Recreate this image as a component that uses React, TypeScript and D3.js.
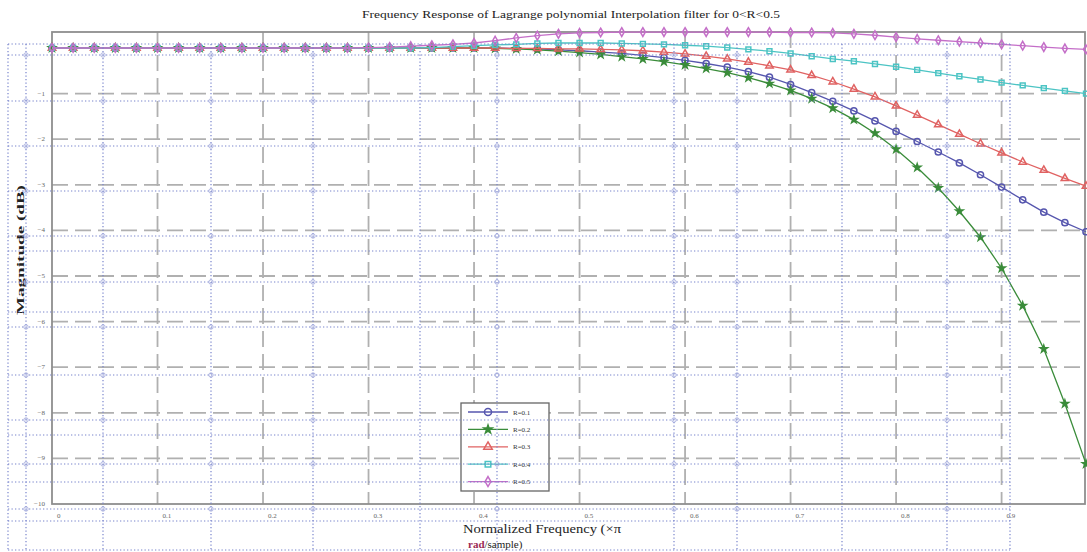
import React, { useEffect, useRef } from "react";
import * as d3 from "d3";

// normalized frequency (x pi rad/sample) of each plotted sample
const freqs = [
  0, 0.02, 0.04, 0.06, 0.08, 0.1, 0.12, 0.14, 0.16, 0.18,
  0.2, 0.22, 0.24, 0.26, 0.28, 0.3, 0.32, 0.34, 0.36, 0.38,
  0.4, 0.42, 0.44, 0.46, 0.48, 0.5, 0.52, 0.54, 0.56, 0.58,
  0.6, 0.62, 0.64, 0.66, 0.68, 0.7, 0.72, 0.74, 0.76, 0.78,
  0.8, 0.82, 0.84, 0.86, 0.88, 0.9, 0.92, 0.94, 0.96, 0.98,
];

// magnitude in dB
const magR01 = [
  0, 0, 0, 0, 0, 0, 0, 0, 0, 0,
  0, 0, 0, 0, 0, 0, 0, 0, 0, 0,
  0, 0, -0.01, -0.02, -0.04, -0.06, -0.09, -0.12, -0.16, -0.21,
  -0.27, -0.34, -0.42, -0.52, -0.64, -0.8, -0.98, -1.17, -1.38, -1.6,
  -1.83, -2.05, -2.28, -2.52, -2.78, -3.05, -3.33, -3.6, -3.83, -4.03,
];
const magR02 = [
  0, 0, 0, 0, 0, 0, 0, 0, 0, 0,
  0, 0, 0, 0, 0, 0, 0, 0, 0, 0,
  0, -0.01, -0.02, -0.04, -0.07, -0.1, -0.14, -0.19, -0.24, -0.3,
  -0.37, -0.45, -0.54, -0.65, -0.78, -0.93, -1.11, -1.32, -1.57, -1.87,
  -2.22, -2.62, -3.07, -3.58, -4.15, -4.83, -5.65, -6.6, -7.8, -9.12,
];
const magR03 = [
  0, 0, 0, 0, 0, 0, 0, 0, 0, 0,
  0, 0, 0, 0, 0, 0, 0, 0, 0, 0,
  0, 0, -0.01, -0.01, -0.02, -0.02, -0.03, -0.04, -0.06, -0.09,
  -0.13, -0.18, -0.24, -0.31, -0.39, -0.48, -0.6, -0.74, -0.9, -1.07,
  -1.27, -1.47, -1.68, -1.89, -2.1, -2.3, -2.5, -2.68, -2.86, -3.03,
];
const magR04 = [
  0, 0, 0, 0, 0, 0, 0, 0, 0, 0,
  0, 0, 0, 0, 0, 0, 0, 0, 0.01, 0.03,
  0.05, 0.07, 0.08, 0.1, 0.11, 0.11, 0.11, 0.1, 0.09, 0.08,
  0.06, 0.04, 0.01, -0.03, -0.07, -0.12, -0.18, -0.24, -0.29, -0.35,
  -0.41, -0.48, -0.55, -0.62, -0.69, -0.76, -0.82, -0.88, -0.94, -1.0,
];
const magR05 = [
  0, 0, 0, 0, 0, 0, 0, 0, 0, 0,
  0, 0, 0, 0, 0, 0.01, 0.02, 0.04, 0.06, 0.08,
  0.11, 0.16, 0.22, 0.27, 0.31, 0.33, 0.34, 0.35, 0.35, 0.35,
  0.35, 0.35, 0.35, 0.35, 0.35, 0.34, 0.34, 0.33, 0.31, 0.28,
  0.24, 0.2, 0.17, 0.14, 0.11, 0.08, 0.05, 0.02, -0.01, -0.03,
];

const seriesNames = ["R=0.1", "R=0.2", "R=0.3", "R=0.4", "R=0.5"];
const seriesValues = [magR01, magR02, magR03, magR04, magR05];

const xTicks = [0, 0.1, 0.2, 0.3, 0.4, 0.5, 0.6, 0.7, 0.8, 0.9];
const yTicks = [-1, -2, -3, -4, -5, -6, -7, -8, -9, -10];

const titleText = "Frequency Response of Lagrange polynomial Interpolation filter for 0<R<0.5";

// look of each series: colour and marker
const seriesStyle = [
  { color: "#5656ae", symbol: d3.symbolCircle, size: 30, fill: "none" },
  { color: "#3a8c3a", symbol: d3.symbolStar, size: 16, fill: "#3a8c3a" },
  { color: "#e06262", symbol: d3.symbolTriangle, size: 24, fill: "none" },
  { color: "#4cc4c4", symbol: d3.symbolSquare, size: 24, fill: "none" },
  { color: "#c46ec8", symbol: d3.symbolDiamond, size: 22, fill: "none" },
];

// dotted page grid lying over the figure (pixels)
const pageCols = [8, 26, 103, 211, 313, 420, 497, 674, 737, 842, 947, 1010];
const pageRows = [44, 55, 101, 146, 191, 236, 251, 282, 312, 327, 375, 420, 435, 464, 482, 509, 521, 550];
const ringCols = [26, 103, 211, 313, 497, 674, 737, 947];
const ringRows = [55, 101, 146, 191, 236, 282, 327, 375, 420, 464, 509];

const W = 1087;
const H = 552;
const serif = "'Liberation Serif', 'Times New Roman', serif";

function drawChart(el: SVGSVGElement) {
  const svg = d3.select(el);
  svg.selectAll("*").remove();

  const left = 52, right = 1085, top = 32, bottom = 504;
  const x = d3.scaleLinear().domain([0, 0.98]).range([52, 1086]);
  const y = d3.scaleLinear().domain([-10, 0]).range([504, 48]);

  svg.append("rect").attr("width", W).attr("height", H).attr("fill", "#fff");

  // grey dashed grid
  const grid = svg.append("g").attr("stroke", "#b0b0b0").attr("stroke-width", 1.8).attr("stroke-dasharray", "16,7");
  grid
    .selectAll(".hg")
    .data(yTicks.slice(0, -1))
    .enter()
    .append("line")
    .attr("x1", left)
    .attr("x2", right)
    .attr("y1", (d) => y(d))
    .attr("y2", (d) => y(d));
  grid
    .selectAll(".vg")
    .data(xTicks.slice(1))
    .enter()
    .append("line")
    .attr("x1", (d) => x(d))
    .attr("x2", (d) => x(d))
    .attr("y1", top)
    .attr("y2", bottom);

  // axes box
  svg
    .append("rect")
    .attr("x", left)
    .attr("y", top)
    .attr("width", right - left)
    .attr("height", bottom - top)
    .attr("fill", "none")
    .attr("stroke", "#8e8e8e")
    .attr("stroke-width", 1.8);

  // curves
  const line = d3
    .line<number>()
    .x((d, i) => x(freqs[i]))
    .y((d) => y(d));

  seriesValues.forEach((vals, k) => {
    const st = seriesStyle[k];
    const g = svg.append("g");
    g.append("path")
      .attr("d", line(vals))
      .attr("fill", "none")
      .attr("stroke", st.color)
      .attr("stroke-width", 1.3);
    g.selectAll("path.mk")
      .data(vals)
      .enter()
      .append("path")
      .attr("class", "mk")
      .attr("d", d3.symbol().type(st.symbol).size(st.size)())
      .attr("transform", (d, i) => `translate(${x(freqs[i])},${y(d)})`)
      .attr("fill", st.fill)
      .attr("stroke", st.color)
      .attr("stroke-width", 1.5);
  });

  // tick labels
  svg
    .append("g")
    .selectAll("text")
    .data(yTicks)
    .enter()
    .append("text")
    .attr("x", 45)
    .attr("y", (d) => y(d) + 2)
    .attr("text-anchor", "end")
    .style("font-family", serif)
    .style("font-size", "7px")
    .attr("fill", "#666")
    .text((d) => d3.format("d")(d).replace("-", "−"));

  svg
    .append("g")
    .selectAll("text")
    .data(xTicks)
    .enter()
    .append("text")
    .attr("x", (d) => x(d) + 5)
    .attr("y", 518)
    .attr("text-anchor", "start")
    .style("font-family", serif)
    .style("font-size", "7px")
    .attr("fill", "#666")
    .text((d) => String(d));

  // title and axis labels
  svg
    .append("text")
    .attr("x", 362)
    .attr("y", 18)
    .attr("textLength", 418)
    .attr("lengthAdjust", "spacingAndGlyphs")
    .style("font-family", serif)
    .style("font-size", "11px")
    .attr("fill", "#222")
    .text(titleText);

  svg
    .append("text")
    .attr("transform", "translate(24,315) rotate(-90)")
    .attr("textLength", 130)
    .attr("lengthAdjust", "spacingAndGlyphs")
    .style("font-family", serif)
    .style("font-size", "9.5px")
    .style("font-weight", "bold")
    .attr("fill", "#222")
    .text("Magnitude  (dB)");

  svg
    .append("text")
    .attr("x", 463)
    .attr("y", 533)
    .attr("textLength", 158)
    .attr("lengthAdjust", "spacingAndGlyphs")
    .style("font-family", serif)
    .style("font-size", "12px")
    .attr("fill", "#222")
    .text("Normalized Frequency (×π");

  const lab2 = svg
    .append("text")
    .attr("x", 468)
    .attr("y", 548)
    .style("font-family", serif)
    .style("font-size", "11px")
    .attr("fill", "#222");
  lab2.append("tspan").attr("fill", "#9b2a55").style("font-weight", "bold").text("rad");
  lab2.append("tspan").text("/sample)");

  // legend
  const lg = svg.append("g").attr("transform", "translate(461,403)");
  lg.append("rect")
    .attr("width", 88)
    .attr("height", 88)
    .attr("fill", "#fff")
    .attr("stroke", "#666")
    .attr("stroke-width", 1.3);
  seriesNames.forEach((name, k) => {
    const st = seriesStyle[k];
    const row = lg.append("g").attr("transform", `translate(0,${9 + k * 17.4})`);
    row.append("line").attr("x1", 7).attr("x2", 47).attr("stroke", st.color).attr("stroke-width", 1.3);
    row.append("path")
      .attr("d", d3.symbol().type(st.symbol).size(st.size * 1.3)())
      .attr("transform", "translate(27,0)")
      .attr("fill", st.fill)
      .attr("stroke", st.color)
      .attr("stroke-width", 1.5);
    row.append("text")
      .attr("x", 52)
      .attr("y", 2.5)
      .style("font-family", serif)
      .style("font-size", "7px")
      .attr("fill", "#333")
      .text(name);
  });

  // dotted page grid on top
  const pg = svg
    .append("g")
    .attr("stroke", "#7884cc")
    .attr("stroke-width", 1.2)
    .attr("stroke-dasharray", "1.3,2.2")
    .attr("fill", "none");
  pg.selectAll(".pr")
    .data(pageRows)
    .enter()
    .append("line")
    .attr("x1", 8)
    .attr("x2", 1010)
    .attr("y1", (d) => d)
    .attr("y2", (d) => d);
  pg.selectAll(".pc")
    .data(pageCols)
    .enter()
    .append("line")
    .attr("x1", (d) => d)
    .attr("x2", (d) => d)
    .attr("y1", 44)
    .attr("y2", 550);

  const rings = svg.append("g").attr("stroke", "#9aa2d8").attr("stroke-width", 0.8).attr("fill", "none");
  ringRows.forEach((ry) => {
    rings
      .selectAll(null)
      .data(ringCols)
      .enter()
      .append("circle")
      .attr("cx", (d) => d)
      .attr("cy", ry)
      .attr("r", 2.2);
  });
}

export default function App() {
  const svgRef = useRef<SVGSVGElement>(null);

  useEffect(() => {
    if (svgRef.current) drawChart(svgRef.current);
  }, []);

  return (
    <svg
      ref={svgRef}
      width={W}
      height={H}
      style={{ position: "absolute", left: 0, top: 0, display: "block" }}
    />
  );
}
